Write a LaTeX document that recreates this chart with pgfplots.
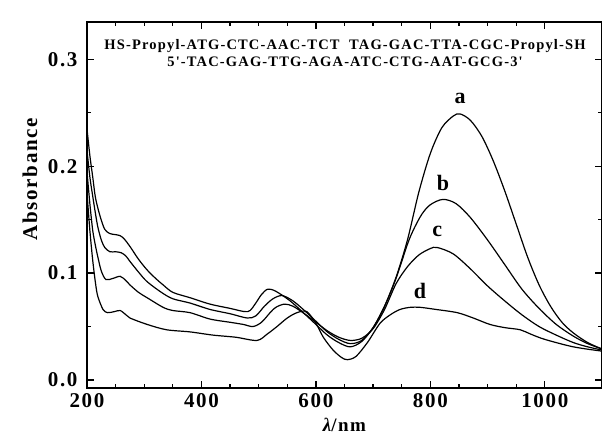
\documentclass[border=0pt]{standalone}
\usepackage{fontspec}
\setmainfont{Liberation Serif}
\newfontfamily\spaced[LetterSpace=8]{Liberation Serif}
\usepackage{pgfplots}
\pgfplotsset{compat=1.18}
\pgfplotsset{spec/.style={black, line width=1.2pt, smooth, tension=0.5, mark=none}}

\begin{document}
\begin{tikzpicture}
\begin{axis}[
    scale only axis,
    width=515pt, height=366pt,
    xmin=200, xmax=1100,
    ymin=-0.0075, ymax=0.335,
    xtick={200,400,600,800,1000},
    ytick={0,0.1,0.2,0.3},
    minor x tick num=3,
    minor y tick num=1,
    tick align=inside,
    major tick length=7pt,
    minor tick length=4pt,
    axis line style={line width=1.6pt},
    every tick/.style={line width=1.3pt, black},
    /pgf/number format/assume math mode=true,
    /pgf/number format/1000 sep={},
    yticklabel style={/pgf/number format/fixed, /pgf/number format/fixed zerofill, /pgf/number format/precision=1, xshift=-6pt},
    xticklabel style={yshift=-2pt},
    tick label style={font=\fontsize{21}{22}\selectfont\bfseries\spaced},
    xlabel={\fontsize{19}{20}\selectfont\bfseries\spaced{\itshape λ}/nm},
    ylabel={\fontsize{21}{22}\selectfont\bfseries\spaced Absorbance},
    xlabel style={at={(axis description cs:0.5,-0.1)}, anchor=center},
    ylabel style={at={(axis description cs:-0.111,0.571)}, anchor=center},
]
% curve a
\addplot[spec] coordinates {
(200,0.235) (205,0.21) (210,0.19) (215,0.17) (223,0.153) (231,0.141) (240,0.137)
(250,0.136) (258,0.135) (265,0.132) (275,0.125) (290,0.113) (305,0.103) (320,0.095)
(333,0.089) (350,0.082) (380,0.077) (415,0.071) (450,0.067) (475,0.064) (485,0.065)
(495,0.072) (505,0.080) (516,0.085) (530,0.083) (555,0.074) (580,0.062) (600,0.052)
(620,0.042) (640,0.035) (660,0.031) (680,0.036) (700,0.049) (720,0.069) (740,0.096)
(760,0.131) (780,0.176) (800,0.212) (820,0.236) (840,0.247) (852,0.249) (870,0.243)
(890,0.228) (910,0.205) (930,0.177) (950,0.146) (970,0.115) (990,0.089) (1010,0.069)
(1030,0.054) (1050,0.044) (1075,0.035) (1100,0.029)
};
% curve b
\addplot[spec] coordinates {
(200,0.215) (205,0.19) (210,0.172) (215,0.155) (219,0.143) (225,0.131) (231,0.124)
(240,0.120) (250,0.120) (260,0.119) (268,0.116) (275,0.111) (290,0.101) (305,0.092)
(330,0.082) (350,0.076) (380,0.072) (415,0.066) (450,0.062) (480,0.058) (495,0.060)
(510,0.069) (525,0.076) (541,0.079) (560,0.074) (580,0.065) (600,0.055) (620,0.045)
(640,0.038) (660,0.034) (680,0.037) (700,0.049) (720,0.069) (740,0.095) (760,0.127)
(770,0.140) (785,0.155) (800,0.164) (822,0.169) (845,0.165) (870,0.152) (900,0.131)
(930,0.108) (960,0.085) (990,0.067) (1020,0.052) (1050,0.041) (1075,0.034) (1100,0.029)
};
% curve c
\addplot[spec] coordinates {
(200,0.195) (205,0.165) (210,0.14) (215,0.125) (219,0.115) (225,0.102) (233,0.094)
(245,0.095) (258,0.097) (268,0.093) (275,0.089) (290,0.082) (305,0.077) (333,0.068)
(350,0.065) (380,0.063) (415,0.057) (450,0.054) (473,0.052) (490,0.050) (505,0.054)
(520,0.063) (530,0.068) (545,0.071) (560,0.069) (580,0.062) (600,0.054) (620,0.046)
(640,0.040) (660,0.037) (680,0.039) (700,0.048) (720,0.066) (740,0.090) (760,0.106)
(780,0.117) (800,0.123) (812,0.124) (840,0.118) (870,0.104) (900,0.088) (930,0.074)
(960,0.061) (990,0.050) (1020,0.042) (1050,0.035) (1075,0.031) (1100,0.028)
};
% curve d
\addplot[spec] coordinates {
(200,0.175) (205,0.14) (210,0.112) (215,0.09) (219,0.078) (228,0.066) (236,0.063)
(248,0.064) (258,0.065) (268,0.061) (275,0.058) (305,0.052) (339,0.047) (380,0.045)
(420,0.042) (460,0.040) (497,0.037) (515,0.043) (532,0.050) (550,0.058) (567,0.063)
(584,0.064) (600,0.053) (613,0.040) (630,0.028) (645,0.021) (655,0.019) (670,0.022)
(690,0.035) (712,0.053) (730,0.061) (747,0.066) (765,0.068) (782,0.068) (810,0.066)
(847,0.063) (875,0.058) (904,0.052) (930,0.049) (957,0.047) (975,0.043) (1000,0.038)
(1050,0.031) (1100,0.027)
};
\node[font=\fontsize{22}{24}\selectfont\bfseries] at (axis cs:852,0.263) {a};
\node[font=\fontsize{22}{24}\selectfont\bfseries] at (axis cs:822,0.184) {b};
\node[font=\fontsize{22}{24}\selectfont\bfseries] at (axis cs:812,0.139) {c};
\node[font=\fontsize{22}{24}\selectfont\bfseries] at (axis cs:782,0.083) {d};
\node[font=\fontsize{14.5}{17}\selectfont\bfseries\spaced, align=center, inner sep=0pt]
  at (axis cs:651,0.306) {HS-Propyl-ATG-CTC-AAC-TCT\ \ TAG-GAC-TTA-CGC-Propyl-SH\\
  5'-TAC-GAG-TTG-AGA-ATC-CTG-AAT-GCG-3'};
\coordinate (bl) at (rel axis cs:0,0);
\coordinate (tr) at (rel axis cs:1,1);
\end{axis}
\pgfresetboundingbox
\path ([xshift=-87pt,yshift=-50pt]bl) rectangle ([yshift=22pt]tr);
\end{tikzpicture}
\end{document}
